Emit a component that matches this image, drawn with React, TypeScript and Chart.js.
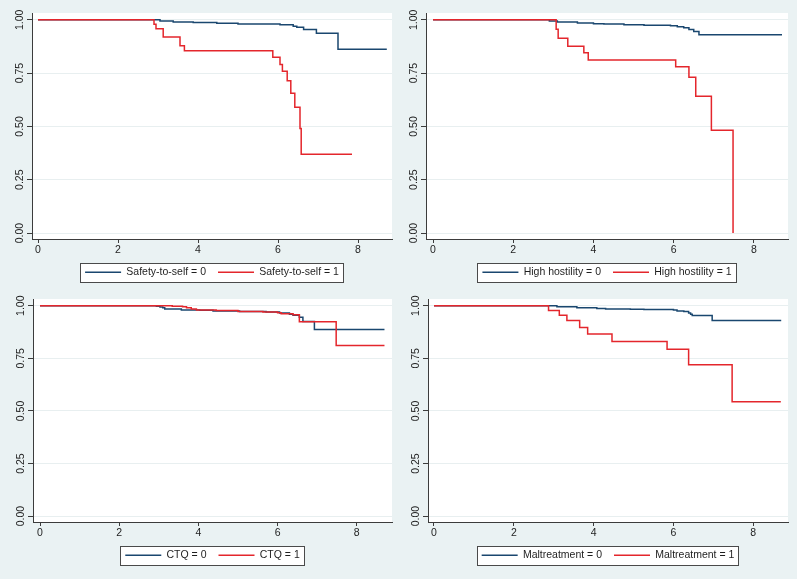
import React, { useEffect, useRef } from "react";
import { Chart, registerables } from "chart.js";

Chart.register(...registerables);

// ---------- data ----------
const xTickValues = [0, 2, 4, 6, 8];
const yTickValues = [0, 0.25, 0.5, 0.75, 1];

// Panel 1: Safety-to-self
const safety0Time = [0, 3.05, 3.38, 3.88, 4.47, 5.0, 6.05, 6.38, 6.47, 6.64, 6.96, 7.5, 8.72];
const safety0Surv = [1, 0.995, 0.99, 0.988, 0.984, 0.98, 0.977, 0.97, 0.965, 0.955, 0.937, 0.862, 0.862];
const safety1Time = [0, 2.9, 2.95, 3.13, 3.55, 3.66, 5.87, 6.05, 6.11, 6.23, 6.32, 6.42, 6.55, 6.58, 7.85];
const safety1Surv = [1, 0.979, 0.958, 0.919, 0.878, 0.855, 0.825, 0.79, 0.759, 0.714, 0.656, 0.59, 0.49, 0.369, 0.369];

// Panel 2: High hostility
const hostile0Time = [0, 2.9, 3.1, 3.6, 4.0, 4.26, 4.76, 5.26, 5.92, 6.09, 6.25, 6.38, 6.5, 6.63, 8.7];
const hostile0Surv = [1, 0.995, 0.99, 0.985, 0.982, 0.98, 0.977, 0.975, 0.972, 0.968, 0.963, 0.955, 0.945, 0.93, 0.93];
const hostile1Time = [0, 3.07, 3.12, 3.36, 3.76, 3.87, 6.05, 6.38, 6.55, 6.94, 7.48];
const hostile1Surv = [1, 0.956, 0.914, 0.876, 0.845, 0.812, 0.78, 0.731, 0.641, 0.482, 0];

// Panel 3: CTQ
const ctq0Time = [0, 2.94, 3.03, 3.1, 3.15, 3.57, 4.03, 4.37, 5.04, 5.71, 6.05, 6.3, 6.39, 6.55, 6.64, 6.93, 8.7];
const ctq0Surv = [1, 0.997, 0.994, 0.99, 0.985, 0.98, 0.978, 0.975, 0.972, 0.97, 0.965, 0.96, 0.955, 0.945, 0.925, 0.887, 0.887];
const ctq1Time = [0, 3.34, 3.6, 3.7, 3.82, 3.95, 4.45, 5.0, 5.63, 6.0, 6.09, 6.39, 6.55, 7.48, 8.7];
const ctq1Surv = [1, 0.997, 0.995, 0.99, 0.985, 0.98, 0.977, 0.972, 0.97, 0.967, 0.962, 0.957, 0.924, 0.811, 0.811];

// Panel 4: Maltreatment
const malt0Time = [0, 3.08, 3.58, 4.08, 4.3, 4.92, 5.26, 6.0, 6.09, 6.26, 6.38, 6.43, 6.47, 6.97, 8.7];
const malt0Surv = [1, 0.995, 0.99, 0.987, 0.985, 0.983, 0.982, 0.98, 0.975, 0.972, 0.965, 0.96, 0.953, 0.93, 0.93];
const malt1Time = [0, 2.87, 3.14, 3.33, 3.65, 3.85, 4.46, 5.84, 6.38, 7.47, 8.69];
const malt1Surv = [1, 0.977, 0.955, 0.93, 0.897, 0.866, 0.83, 0.793, 0.72, 0.543, 0.543];

const safetyLabels = ["Safety-to-self = 0", "Safety-to-self = 1"];
const hostileLabels = ["High hostility = 0", "High hostility = 1"];
const ctqLabels = ["CTQ = 0", "CTQ = 1"];
const maltLabels = ["Maltreatment = 0", "Maltreatment = 1"];

// ---------- styles ----------
const BG = "#EAF2F3";
const GRID = "#E8EFF0";
const AXIS = "#3c3c3c";
const TEXT = "#1e1e1e";
const BLUE = "#1A476F";
const RED = "rgb(228,38,44)";
const FONT = "'Liberation Sans', Arial, Helvetica, sans-serif";
const FS = 10.5;

type PanelSpec = {
  labels: string[];
  t0: number[];
  s0: number[];
  t1: number[];
  s1: number[];
  left: number;
  top: number;
  width: number;
  height: number;
  axisWidth: number;
  padTop: number;
  padRight: number;
  padBottom: number;
  xMin: number;
  xMax: number;
};

const toPoints = (t: number[], s: number[]) => t.map((x, i) => ({ x, y: s[i] }));

const framePlugin = {
  id: "stataFrame",
  beforeDraw(chart: any) {
    const { ctx, chartArea } = chart;
    ctx.save();
    ctx.fillStyle = "#ffffff";
    ctx.fillRect(chartArea.left, chartArea.top, chartArea.right - chartArea.left, chartArea.bottom - chartArea.top);
    const lg = chart.legend;
    if (lg && lg.legendHitBoxes && lg.legendHitBoxes.length) {
      const hb = lg.legendHitBoxes;
      const first = hb[0];
      const last = hb[hb.length - 1];
      const cy = first.top + first.height / 2;
      const x0 = Math.round(first.left - 5) + 0.5;
      const x1 = Math.round(last.left + last.width + 4) + 0.5;
      const y0 = Math.round(cy - 9.5) + 0.5;
      const y1 = Math.round(cy + 9.5) + 0.5;
      ctx.fillStyle = "#ffffff";
      ctx.fillRect(x0, y0, x1 - x0, y1 - y0);
      ctx.strokeStyle = "#4a4a4a";
      ctx.lineWidth = 1;
      ctx.strokeRect(x0, y0, x1 - x0, y1 - y0);
    }
    ctx.restore();
  },
};

function Panel({ spec }: { spec: PanelSpec }) {
  const ref = useRef<HTMLCanvasElement>(null);
  useEffect(() => {
    const canvas = ref.current;
    if (!canvas) return;
    const mctx = canvas.getContext("2d")!;
    mctx.font = `${FS}px ${FONT}`;
    const labelW = mctx.measureText("0.00").width;

    const chart = new Chart(canvas, {
      type: "line",
      data: {
        datasets: [
          {
            label: spec.labels[0],
            data: toPoints(spec.t0, spec.s0),
            borderColor: BLUE,
            backgroundColor: BLUE,
            borderWidth: 1.5,
            pointRadius: 0,
            stepped: true,
            fill: false,
            order: 2,
          },
          {
            label: spec.labels[1],
            data: toPoints(spec.t1, spec.s1),
            borderColor: RED,
            backgroundColor: RED,
            borderWidth: 1.5,
            pointRadius: 0,
            stepped: true,
            fill: false,
            order: 1,
          },
        ],
      },
      options: {
        animation: false,
        responsive: false,
        devicePixelRatio: 1,
        events: [],
        layout: {
          padding: { top: spec.padTop, right: spec.padRight, left: 0, bottom: spec.padBottom },
        },
        font: { family: FONT, size: FS },
        scales: {
          x: {
            type: "linear",
            min: spec.xMin,
            max: spec.xMax,
            afterBuildTicks: (s: any) => {
              s.ticks = xTickValues.map((v) => ({ value: v }));
            },
            afterFit: (s: any) => {
              s.height = 16;
              s.paddingLeft = 0;
              s.paddingRight = 0;
            },
            grid: { drawOnChartArea: false, drawTicks: true, tickLength: 4, tickColor: AXIS, tickWidth: 1 },
            border: { color: AXIS, width: 1 },
            ticks: {
              padding: 1,
              color: TEXT,
              font: { family: FONT, size: FS },
              maxRotation: 0,
              minRotation: 0,
              callback: (v: any) => String(v),
            },
          },
          y: {
            type: "linear",
            min: -0.028,
            max: 1.032,
            afterBuildTicks: (s: any) => {
              s.ticks = yTickValues.map((v) => ({ value: v }));
            },
            afterFit: (s: any) => {
              s.width = spec.axisWidth;
              s.paddingTop = 0;
              s.paddingBottom = 0;
            },
            grid: { color: GRID, lineWidth: 1, drawTicks: true, tickLength: 5, tickColor: AXIS, tickWidth: 1 },
            border: { color: AXIS, width: 1 },
            ticks: {
              minRotation: 90,
              maxRotation: 90,
              padding: 7,
              labelOffset: -labelW / 2,
              color: TEXT,
              font: { family: FONT, size: FS },
              callback: (v: any) => Number(v).toFixed(2),
            },
          },
        },
        plugins: {
          legend: {
            position: "bottom",
            fullSize: false,
            labels: {
              usePointStyle: true,
              pointStyle: "line",
              pointStyleWidth: 36,
              padding: 12,
              color: TEXT,
              font: { family: FONT, size: FS },
              sort: (a: any, b: any) => a.datasetIndex - b.datasetIndex,
            },
          },
          tooltip: { enabled: false },
        },
      } as any,
      plugins: [framePlugin],
    });
    return () => chart.destroy();
  }, [spec]);

  return (
    <canvas
      ref={ref}
      width={spec.width}
      height={spec.height}
      style={{ position: "absolute", left: spec.left, top: spec.top, width: spec.width, height: spec.height }}
    />
  );
}

const panels: PanelSpec[] = [
  {
    labels: safetyLabels, t0: safety0Time, s0: safety0Surv, t1: safety1Time, s1: safety1Surv,
    left: 0, top: 0, width: 397, height: 290, axisWidth: 32, padTop: 13, padRight: 5, padBottom: 2.5,
    xMin: -0.15, xMax: 8.85,
  },
  {
    labels: hostileLabels, t0: hostile0Time, s0: hostile0Surv, t1: hostile1Time, s1: hostile1Surv,
    left: 397, top: 0, width: 400, height: 290, axisWidth: 29, padTop: 13, padRight: 9, padBottom: 2.5,
    xMin: -0.175, xMax: 8.85,
  },
  {
    labels: ctqLabels, t0: ctq0Time, s0: ctq0Surv, t1: ctq1Time, s1: ctq1Surv,
    left: 0, top: 290, width: 397, height: 289, axisWidth: 33, padTop: 9, padRight: 5, padBottom: 8.5,
    xMin: -0.177, xMax: 8.89,
  },
  {
    labels: maltLabels, t0: malt0Time, s0: malt0Surv, t1: malt1Time, s1: malt1Surv,
    left: 397, top: 290, width: 400, height: 289, axisWidth: 31, padTop: 9, padRight: 9, padBottom: 8.5,
    xMin: -0.15, xMax: 8.87,
  },
];

export default function App() {
  return (
    <div
      style={{
        position: "fixed",
        left: 0,
        top: 0,
        width: 797,
        height: 579,
        background: BG,
        overflow: "hidden",
      }}
    >
      {panels.map((p, i) => (
        <Panel key={i} spec={p} />
      ))}
    </div>
  );
}
